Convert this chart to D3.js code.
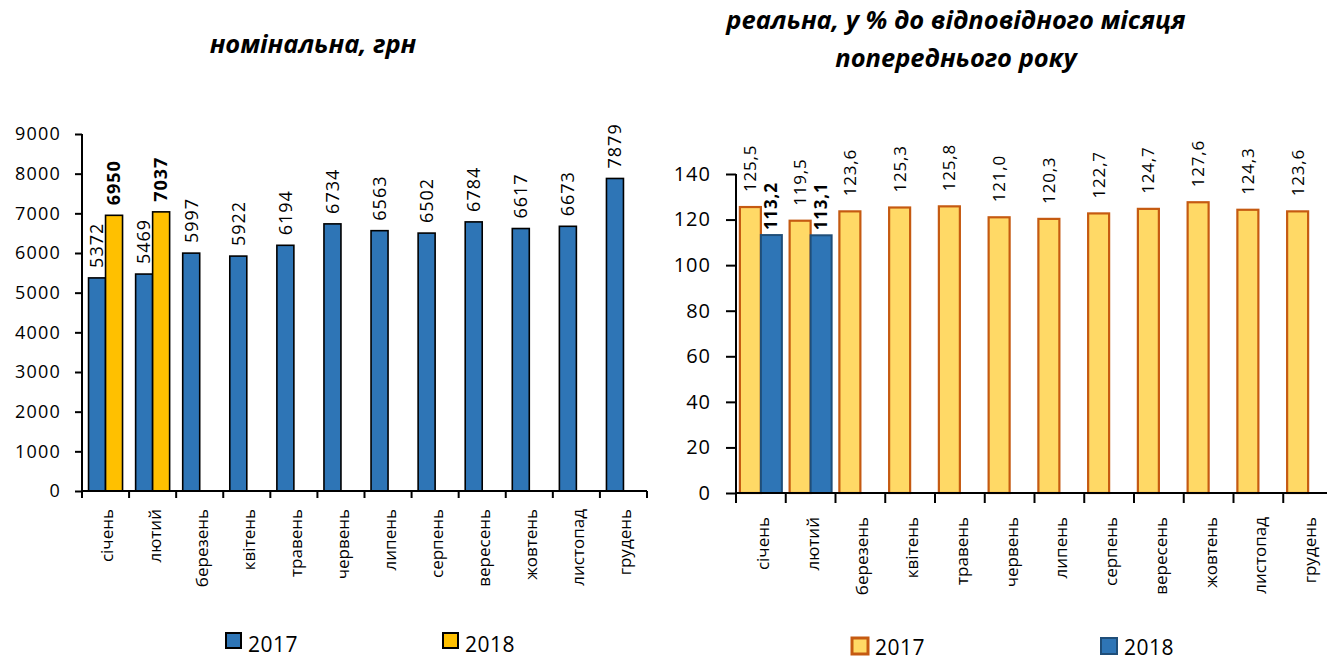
<!DOCTYPE html>
<html><head><meta charset="utf-8">
<script src="https://cdn.jsdelivr.net/npm/d3@7"></script>
<style>
body{margin:0;background:#fff;}
svg{display:block;font-family:"Open Sans",sans-serif;}
</style></head>
<body>
<svg id="c" width="1327" height="662"></svg>
<script>
const months = ["січень","лютий","березень","квітень","травень","червень","липень","серпень","вересень","жовтень","листопад","грудень"];
const nominal2017 = [5372,5469,5997,5922,6194,6734,6563,6502,6784,6617,6673,7879];
const nominal2018 = [6950,7037];
const real2017 = [125.5,119.5,123.6,125.3,125.8,121.0,120.3,122.7,124.7,127.6,124.3,123.6];
const real2018 = [113.2,113.1];
const nominalTicks = [0,1000,2000,3000,4000,5000,6000,7000,8000,9000];
const realTicks = [0,20,40,60,80,100,120,140];
const seriesNames = ["2017","2018"];

const svg = d3.select("#c");
const fmtComma = v => d3.format(".1f")(v).replace(".", ",");

function drawChart(o){
  const g = svg.append("g");
  const x = d3.scaleBand().domain(months).range([o.x0, o.x1]);
  const x1 = d3.scaleBand().domain([0,1]).range([0, o.groupW]);
  const y = d3.scaleLinear().domain([0, o.yMax]).range([o.y0, o.yTop]);
  const off = (x.bandwidth() - o.groupW)/2;

  // y axis
  const ya = g.append("g").attr("transform", `translate(${o.x0},0)`)
    .call(d3.axisLeft(y).tickValues(o.ticks).tickSize(o.tickLen).tickPadding(o.tickPad).tickFormat(d3.format("d")));
  ya.select(".domain").attr("stroke","#000").attr("stroke-width",2).attr("d",`M0,${o.y0}V${o.yTop}`);
  ya.selectAll(".tick line").attr("stroke","#000").attr("stroke-width",2);
  ya.selectAll(".tick text").attr("fill","#000").style("font-size",o.tickFont+"px").style("letter-spacing",o.tickLS+"px")
    .style("font-family","'Open Sans',sans-serif");

  // bars
  [o.s1, o.s2].forEach((s, si) => {
    g.append("g").selectAll("rect").data(s.values).join("rect")
      .attr("x", (d,i) => x(months[i]) + off + x1(si))
      .attr("width", x1.bandwidth())
      .attr("y", d => y(d))
      .attr("height", d => o.y0 - y(d))
      .attr("fill", s.fill).attr("stroke", s.stroke).attr("stroke-width", s.sw);
    g.append("g").selectAll("text").data(s.values).join("text")
      .attr("transform", (d,i) => `translate(${x(months[i]) + off + x1(si) + x1.bandwidth()/2},${y(d) - s.gap}) rotate(-90)`)
      .attr("dy","0.35em")
      .attr("text-anchor","start")
      .style("font-size", o.labelFont+"px")
      .style("font-weight", s.bold ? "700" : "400")
      .style("letter-spacing", o.labelLS+"px")
      .attr("fill","#000")
      .text(d => o.fmt(d));
  });

  // x axis
  const xa = g.append("g").attr("transform", `translate(0,${o.y0})`)
    .call(d3.axisBottom(x).tickSize(0).tickFormat(""));
  xa.select(".domain").attr("stroke","#000").attr("stroke-width",2).attr("d",`M${o.x0},0H${Math.min(o.x1,1327)}`);
  xa.selectAll(".tick").remove();
  const bounds = months.map(m => x(m)).concat([o.x1]);
  xa.selectAll("line.b").data(bounds).join("line").attr("class","b")
    .attr("x1", d=>d).attr("x2", d=>d).attr("y1",0).attr("y2",o.tickLen)
    .attr("stroke","#000").attr("stroke-width",2);
  g.append("g").selectAll("text").data(months).join("text")
    .attr("transform", d => `translate(${x(d) + x.bandwidth()/2 + 2},${o.catTop}) rotate(-90)`)
    .attr("dy","0.35em").attr("text-anchor","end")
    .style("font-size", o.catFont+"px").attr("fill","#000")
    .text(d => d);

  // title
  const t = g.append("text").attr("text-anchor","middle")
    .style("font-size", o.titleFont+"px").style("font-weight","700").style("font-style","italic").attr("fill","#000");
  o.title.forEach((line, i) => t.append("tspan").attr("x", o.titleX).attr("y", o.titleY + i*o.titleLH).text(line));

  // legend
  [o.s1, o.s2].forEach((s, si) => {
    const L = o.legend[si];
    g.append("rect").attr("x", L.x).attr("y", L.y).attr("width", o.legSq).attr("height", o.legSq)
      .attr("fill", s.fill).attr("stroke", s.stroke).attr("stroke-width", s.legSW);
    g.append("text").attr("x", L.x + o.legSq + 7).attr("y", L.ty)
      .style("font-size", o.legFont+"px").style("letter-spacing","0.5px").attr("fill","#000").text(seriesNames[si]);
  });
}

drawChart({
  x0: 82, x1: 647, y0: 491, yTop: 134, yMax: 9000, ticks: nominalTicks,
  groupW: 34, tickLen: 7, tickPad: 14, tickFont: 18, tickLS: 1.2,
  labelFont: 18, labelLS: 1, fmt: d3.format("d"),
  s1: {values: nominal2017, fill:"#2E75B6", stroke:"#000", sw:1.6, gap:10, bold:false, legSW:2},
  s2: {values: nominal2018, fill:"#FFC000", stroke:"#000", sw:1.6, gap:10, bold:true, legSW:2},
  catTop: 509, catFont: 17,
  title: ["номінальна, грн"], titleX: 313, titleY: 53, titleLH: 0, titleFont: 25.5,
  legSq: 15, legFont: 21,
  legend: [{x:226, y:633, ty:652}, {x:443, y:633, ty:652}]
});

drawChart({
  x0: 736, x1: 1333, y0: 493, yTop: 174, yMax: 140, ticks: realTicks,
  groupW: 42, tickLen: 10, tickPad: 15, tickFont: 20, tickLS: 1,
  labelFont: 17, labelLS: 0.8, fmt: fmtComma,
  s1: {values: real2017, fill:"#FFD966", stroke:"#C55A11", sw:2.2, gap:15, bold:false, legSW:3},
  s2: {values: real2018, fill:"#2E75B6", stroke:"#1F4E79", sw:2, gap:5, bold:true, legSW:2},
  catTop: 517, catFont: 17,
  title: ["реальна, у % до відповідного місяця", "попереднього року"], titleX: 956, titleY: 29, titleLH: 38, titleFont: 25.5,
  legSq: 16, legFont: 21,
  legend: [{x:852, y:638, ty:655}, {x:1101, y:638, ty:655}]
});
</script>
</body></html>
